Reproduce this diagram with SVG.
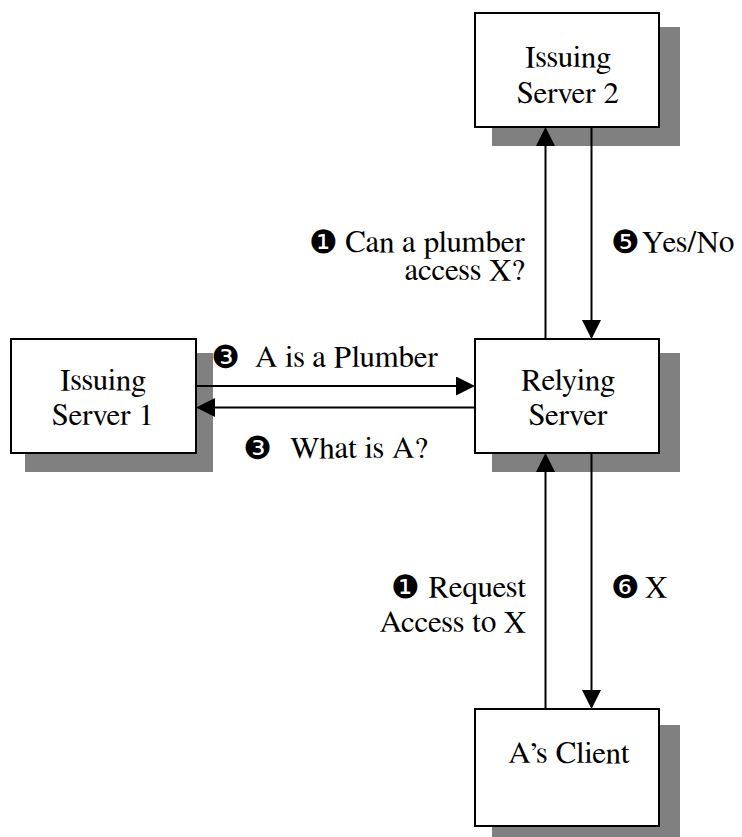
<svg xmlns="http://www.w3.org/2000/svg" width="742" height="837" viewBox="0 0 742 837">
<style>
.sh{fill:#808080;stroke:none}
.bx{fill:#fff;stroke:#000;stroke-width:2}
.t{font-family:FreeSerif,"Liberation Serif","Noto Serif","DejaVu Serif",serif;font-size:31px;fill:#000}
.c{text-anchor:middle}
.e{text-anchor:end}
.d{font-family:"DejaVu Sans",sans-serif;font-size:32px;fill:#000}
.ln{stroke:#000;stroke-width:2;fill:none}
</style>
<defs>
<marker id="arr" viewBox="0 0 19 19" markerWidth="19" markerHeight="19" refX="17" refY="9.5" orient="auto" markerUnits="userSpaceOnUse">
<path d="M0,0 L19,9.5 L0,19 z" fill="#000"/>
</marker>
</defs>
<g id="issuing-server-2">
<rect class="sh" x="492" y="27" width="188" height="119"/>
<rect class="bx" x="475" y="13" width="184" height="114"/>
<text class="t c" x="568" y="67">Issuing<tspan x="568" y="103">Server 2</tspan></text>
</g>
<g id="relying-server">
<rect class="sh" x="492" y="353" width="188" height="119"/>
<rect class="bx" x="475" y="339" width="184" height="114"/>
<text class="t c" x="568" y="390">Relying<tspan x="568" y="425">Server</tspan></text>
</g>
<g id="issuing-server-1">
<rect class="sh" x="25" y="353" width="188" height="119"/>
<rect class="bx" x="11" y="339" width="185" height="114"/>
<text class="t c" x="103" y="390">Issuing<tspan x="103" y="425">Server 1</tspan></text>
</g>
<g id="as-client">
<rect class="sh" x="492" y="725" width="188" height="112"/>
<rect class="bx" x="475" y="709" width="184" height="117"/>
<text class="t c" x="569" y="763">A’s Client</text>
</g>
<g id="connectors">
<line class="ln" x1="545.5" y1="339" x2="545.5" y2="129" marker-end="url(#arr)"/>
<line class="ln" x1="591.5" y1="127" x2="591.5" y2="337" marker-end="url(#arr)"/>
<line class="ln" x1="545.5" y1="709" x2="545.5" y2="455" marker-end="url(#arr)"/>
<line class="ln" x1="591.5" y1="453" x2="591.5" y2="707" marker-end="url(#arr)"/>
<line class="ln" x1="196" y1="386" x2="473" y2="386" marker-end="url(#arr)"/>
<line class="ln" x1="475" y1="407.5" x2="198" y2="407.5" marker-end="url(#arr)"/>
</g>
<g id="labels">
<text class="d" x="309" y="253">❶</text>
<text class="t e" x="525" y="252">Can a plumber<tspan x="525" y="280">access X?</tspan></text>
<text class="d" x="611" y="253">❺</text>
<text class="t" x="642" y="252">Yes/No</text>
<text class="d" x="211" y="368">❸</text>
<text class="t" x="255" y="367">A is a Plumber</text>
<text class="d" x="243" y="459">❸</text>
<text class="t" x="290" y="458">What is A?</text>
<text class="d" x="391" y="598">❶</text>
<text class="t e" x="526" y="597">Request<tspan x="526" y="632">Access to X</tspan></text>
<text class="d" x="611" y="598">❻</text>
<text class="t" x="645" y="597">X</text>
</g>
</svg>
